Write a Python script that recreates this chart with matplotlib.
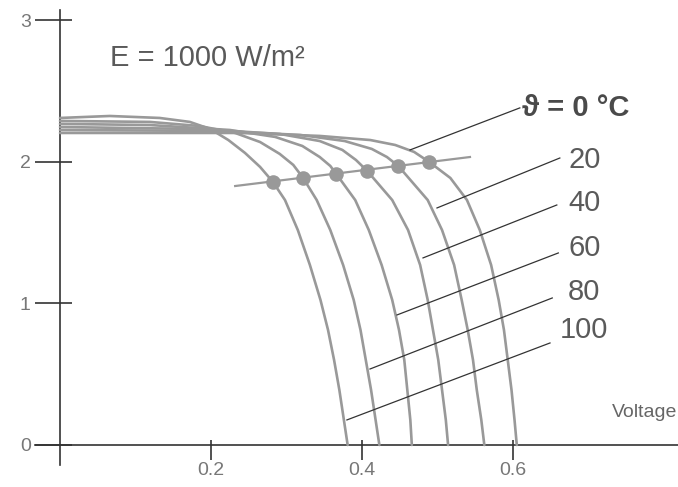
import numpy as np
import matplotlib.pyplot as plt
from matplotlib.ticker import FixedLocator

plt.rcParams['font.family'] = ['Liberation Sans', 'DejaVu Sans']

# I-V Kennlinien einer Solarzelle bei E = 1000 W/m2
v_100 = [0, 0.066, 0.132, 0.172, 0.199, 0.223, 0.245, 0.265, 0.282, 0.298, 0.315, 0.331, 0.345, 0.355, 0.363, 0.370, 0.376, 0.381]
i_100 = [2.311, 2.325, 2.311, 2.283, 2.233, 2.155, 2.064, 1.965, 1.859, 1.731, 1.519, 1.272, 1.025, 0.813, 0.601, 0.389, 0.177, 0]
v_80 = [0, 0.119, 0.185, 0.232, 0.265, 0.291, 0.309, 0.322, 0.340, 0.358, 0.375, 0.389, 0.398, 0.405, 0.412, 0.418, 0.423]
i_80 = [2.290, 2.283, 2.254, 2.205, 2.141, 2.057, 1.979, 1.887, 1.731, 1.519, 1.272, 1.025, 0.813, 0.601, 0.389, 0.177, 0]
v_60 = [0, 0.119, 0.225, 0.285, 0.321, 0.344, 0.358, 0.366, 0.391, 0.409, 0.426, 0.440, 0.449, 0.456, 0.460, 0.464, 0.466]
i_60 = [2.269, 2.261, 2.226, 2.177, 2.113, 2.035, 1.972, 1.915, 1.731, 1.519, 1.272, 1.025, 0.813, 0.601, 0.389, 0.177, 0]
v_40 = [0, 0.185, 0.291, 0.344, 0.374, 0.392, 0.407, 0.440, 0.461, 0.477, 0.487, 0.494, 0.501, 0.506, 0.511, 0.514]
i_40 = [2.247, 2.233, 2.198, 2.148, 2.085, 2.014, 1.936, 1.731, 1.519, 1.272, 1.025, 0.813, 0.601, 0.389, 0.177, 0]
v_20 = [0, 0.212, 0.318, 0.377, 0.413, 0.433, 0.448, 0.487, 0.506, 0.522, 0.532, 0.540, 0.547, 0.552, 0.558, 0.562]
i_20 = [2.226, 2.219, 2.191, 2.148, 2.092, 2.035, 1.972, 1.731, 1.519, 1.272, 1.025, 0.813, 0.601, 0.389, 0.177, 0]
v_0 = [0, 0.238, 0.344, 0.411, 0.444, 0.469, 0.489, 0.517, 0.539, 0.556, 0.571, 0.581, 0.588, 0.593, 0.598, 0.602, 0.605]
i_0 = [2.205, 2.205, 2.184, 2.155, 2.120, 2.071, 2.000, 1.887, 1.731, 1.519, 1.272, 1.025, 0.813, 0.601, 0.389, 0.177, 0]

# MPP Punkte (100 ... 0 °C) und Verbindungslinie
mpp_v = [0.282, 0.322, 0.366, 0.407, 0.448, 0.489]
mpp_i = [1.859, 1.887, 1.915, 1.936, 1.972, 2.000]
mpp_line_v = [0.232, 0.543]
mpp_line_i = [1.830, 2.035]

# Beschriftungen der Temperaturen
temp_labels = ['ϑ = 0 °C', '20', '40', '60', '80', '100']
label_v = [0.612, 0.673, 0.673, 0.673, 0.673, 0.662]
label_i = [2.382, 2.014, 1.710, 1.392, 1.081, 0.813]
lead_v0 = [0.609, 0.662, 0.658, 0.660, 0.652, 0.649]
lead_i0 = [2.382, 2.028, 1.696, 1.357, 1.039, 0.721]
lead_v1 = [0.4636, 0.4993, 0.4808, 0.4464, 0.4106, 0.380]
lead_i1 = [2.085, 1.675, 1.322, 0.919, 0.537, 0.177]

x_ticks = [0.2, 0.4, 0.6]
y_ticks = [0, 1, 2, 3]

fig = plt.figure(figsize=(6.78, 4.87), dpi=100)
ax = fig.add_axes([0.0516, 0.0452, 0.9484, 0.9343])
ax.set_xlim(-0.0331, 0.8185)
ax.set_ylim(-0.1413, 3.074)

curve_col = '#999999'
for v, i in [(v_100, i_100), (v_80, i_80), (v_60, i_60), (v_40, i_40), (v_20, i_20), (v_0, i_0)]:
    ax.plot(v, i, color=curve_col, lw=1.9, solid_capstyle='round', solid_joinstyle='round', zorder=3)

ax.plot(mpp_line_v, mpp_line_i, color=curve_col, lw=1.6, zorder=3)
ax.plot(mpp_v, mpp_i, 'o', color=curve_col, markersize=10.5, markeredgewidth=0, zorder=4)

for k in range(len(temp_labels)):
    ax.plot([lead_v0[k], lead_v1[k]], [lead_i0[k], lead_i1[k]], color='#333333', lw=0.9, zorder=5)
    if k == 0:
        ax.text(label_v[k], label_i[k], temp_labels[k], fontsize=21, fontweight='bold',
                color='#4a4a4a', ha='left', va='center')
    else:
        ax.text(label_v[k], label_i[k], temp_labels[k], fontsize=21, color='#5a5a5a',
                ha='left', va='center')

ax.text(0.066, 2.735, 'E = 1000 W/m²', fontsize=21, color='#5a5a5a', ha='left', va='center')
ax.text(0.818, 0.233, 'Voltage', fontsize=14, color='#666666', ha='right', va='center')

# Achsen durch den Nullpunkt
for s in ['top', 'right']:
    ax.spines[s].set_visible(False)
ax.spines['left'].set_position(('data', 0))
ax.spines['bottom'].set_position(('data', 0))
for s in ['left', 'bottom']:
    ax.spines[s].set_color('#333333')
    ax.spines[s].set_linewidth(1.2)

ax.set_xticks(x_ticks)
ax.set_xticklabels([str(t) for t in x_ticks])
ax.set_yticks(y_ticks)
ax.set_yticklabels([str(t) for t in y_ticks])
ax.xaxis.set_minor_locator(FixedLocator(x_ticks))
ax.yaxis.set_minor_locator(FixedLocator(y_ticks))
ax.xaxis.remove_overlapping_locs = False
ax.yaxis.remove_overlapping_locs = False
ax.tick_params(axis='x', which='major', direction='out', length=10.8, width=1.2, color='#333333',
               labelsize=14, labelcolor='#777777', pad=1.5)
ax.tick_params(axis='x', which='minor', direction='in', length=3.6, width=1.2, color='#333333')
ax.tick_params(axis='y', which='major', direction='out', length=18, width=1.2, color='#333333',
               labelsize=14, labelcolor='#777777', pad=3)
ax.tick_params(axis='y', which='minor', direction='in', length=8.6, width=1.2, color='#333333')

fig.savefig('out.png', dpi=100)
